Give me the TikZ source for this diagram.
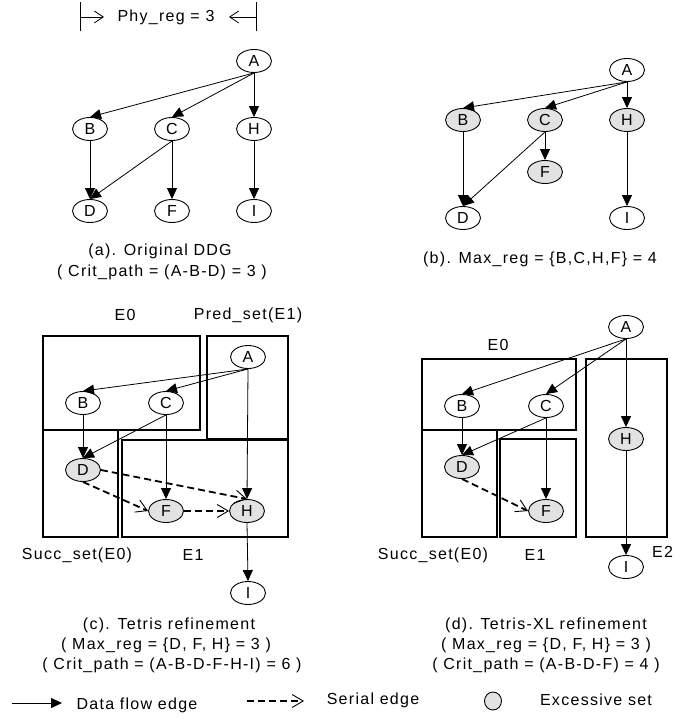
\documentclass[tikz,border=0pt]{standalone}
\usepackage{fontspec}
\setmainfont{Liberation Sans}[LetterSpace=8]
\usetikzlibrary{arrows.meta,shapes.geometric}
\definecolor{excol}{RGB}{226,226,226}
\begin{document}
\begin{tikzpicture}[x=1pt,y=-1pt,
  font=\fontsize{16pt}{18pt}\selectfont,
  vtx/.style={ellipse,draw,line width=0.9pt,minimum width=35pt,minimum height=23pt,inner sep=0pt,fill=white,font=\fontsize{16pt}{17pt}\selectfont},
  exc/.style={vtx,fill=excol},
  flow/.style={line width=0.8pt,-{Triangle[length=11pt,width=10pt]}},
  serial/.style={line width=1.8pt,dash pattern=on 7pt off 4pt,-{Straight Barb[length=11pt,width=13pt,line width=0.9pt]}},
  setbox/.style={line width=1.6pt},
  lbl/.style={inner sep=0pt,anchor=center}]
\fill[white] (0,0) rectangle (675,719);
\useasboundingbox (0,0) rectangle (675,719);

% ---------- title bracket ----------
\node[lbl] (phy) at (166,17) {Phy\_reg = 3};
\coordinate (lb) at (80,17);
\coordinate (lt) at (104,17);
\coordinate (rb) at (257,17);
\coordinate (rt) at (229,17);
\draw[line width=0.8pt,{Bar[width=29pt]}-{Straight Barb[length=9pt,width=12pt,line width=0.8pt]}] (lb) -- (lt);
\draw[line width=0.8pt,{Bar[width=29pt]}-{Straight Barb[length=9pt,width=12pt,line width=0.8pt]}] (rb) -- (rt);

% ---------- (a) ----------
\node[vtx] (aA) at (254,61) {A};
\node[vtx] (aB) at (90,129) {B};
\node[vtx] (aC) at (172,129) {C};
\node[vtx] (aH) at (254,129) {H};
\node[vtx] (aD) at (90,211) {D};
\node[vtx] (aF) at (172,211) {F};
\node[vtx] (aI) at (254,211) {I};
\draw[flow] (aA.south) -- (aB.north);
\draw[flow] (aA.south) -- (aC.north);
\draw[flow] (aA.south) -- (aH.north);
\draw[flow] (aB.south) -- (aD.north);
\draw[flow] (aC.south) -- (aD.north);
\draw[flow] (aC.south) -- (aF.north);
\draw[flow] (aH.south) -- (aI.north);
\node[lbl] (capa1) at (160,251) {(a). Original DDG};
\node[lbl] (capa2) at (162,272) {( Crit\_path = (A-B-D) = 3 )};

% ---------- (b) ----------
\node[vtx] (bA) at (627,70) {A};
\node[exc] (bB) at (463,120) {B};
\node[exc] (bC) at (545,120) {C};
\node[exc] (bH) at (627,120) {H};
\node[exc] (bF) at (545,172) {F};
\node[vtx] (bD) at (463,218) {D};
\node[vtx] (bI) at (627,218) {I};
\draw[flow] (bA.south) -- (bB.north);
\draw[flow] (bA.south) -- (bC.north);
\draw[flow] (bA.south) -- (bH.north);
\draw[flow] (bB.south) -- (bD.north);
\draw[flow] (bC.south) -- (bD.north);
\draw[flow] (bC.south) -- (bF.north);
\draw[flow] (bH.south) -- (bI.north);
\node[lbl] (capb) at (540,259) {(b). Max\_reg = \{B,C,H,F\} = 4};

% ---------- (c) ----------
\draw[setbox] (43,336) rectangle (200,430);
\draw[setbox] (207,336) rectangle (288,439);
\draw[setbox] (43,430) rectangle (118,537);
\draw[setbox] (122,440) rectangle (288,537);
\node[lbl] (cE0) at (125,315) {E0};
\node[lbl] (cPred) at (248,315) {Pred\_set(E1)};
\node[lbl] (cSucc) at (77,555) {Succ\_set(E0)};
\node[lbl] (cE1) at (193,555) {E1};
\node[vtx] (cA) at (248,357) {A};
\node[vtx] (cB) at (83,403) {B};
\node[vtx] (cC) at (166,403) {C};
\node[exc] (cD) at (83,470) {D};
\node[exc] (cF) at (166,511) {F};
\node[exc] (cH) at (247,511) {H};
\node[vtx] (cI) at (248,593) {I};
\draw[flow] (cA.south) -- (cB.north);
\draw[flow] (cA.south) -- (cC.north);
\draw[flow] (cA.south) -- (cH.north);
\draw[flow] (cB.south) -- (cD.north);
\draw[flow] (cC.south) -- (cD.north);
\draw[flow] (cC.south) -- (cF.north);
\draw[flow] (cH.south) -- (cI.north);
\draw[serial] (cD.east) -- (cH.north);
\draw[serial] (cD.south) -- (cF.west);
\draw[serial] (cF.east) -- (cH.west);
\node[lbl] (capc1) at (169,625) {(c). Tetris refinement};
\node[lbl] (capc2) at (166,645) {( Max\_reg = \{D, F, H\} = 3 )};
\node[lbl] (capc3) at (172,665) {( Crit\_path = (A-B-D-F-H-I) = 6 )};

% ---------- (d) ----------
\draw[setbox] (422,359) rectangle (576,430);
\draw[setbox] (586,359) rectangle (667,537);
\draw[setbox] (422,430) rectangle (497,537);
\draw[setbox] (500,439) rectangle (576,537);
\node[lbl] (dE0) at (498,345) {E0};
\node[lbl] (dSucc) at (433,555) {Succ\_set(E0)};
\node[lbl] (dE1) at (535,555) {E1};
\node[lbl,anchor=west] (dE2) at (652,552) {E2};
\node[vtx] (dA) at (626,327) {A};
\node[vtx] (dB) at (462,406) {B};
\node[vtx] (dC) at (546,406) {C};
\node[exc] (dD) at (462,467) {D};
\node[exc] (dF) at (546,511) {F};
\node[exc] (dH) at (626,439) {H};
\node[vtx] (dI) at (626,567) {I};
\draw[flow] (dA.south) -- (dB.north);
\draw[flow] (dA.south) -- (dC.north);
\draw[flow] (dA.south) -- (dH.north);
\draw[flow] (dB.south) -- (dD.north);
\draw[flow] (dC.south) -- (dD.north);
\draw[flow] (dC.south) -- (dF.north);
\draw[flow] (dH.south) -- (dI.north);
\draw[serial] (dD.south) -- (dF.west);
\node[lbl] (capd1) at (546,625) {(d). Tetris-XL refinement};
\node[lbl] (capd2) at (546,645) {( Max\_reg = \{D, F, H\} = 3 )};
\node[lbl] (capd3) at (546,665) {( Crit\_path = (A-B-D-F) = 4 )};

% ---------- legend ----------
\coordinate (lf1) at (12,703);
\coordinate (lf2) at (62,703);
\draw[flow] (lf1) -- (lf2);
\node[lbl] (lgf) at (137,705) {Data flow edge};
\coordinate (ls1) at (247,701);
\coordinate (ls2) at (304,701);
\draw[serial] (ls1) -- (ls2);
\node[lbl] (lgs) at (373,700) {Serial edge};
\node[ellipse,draw,line width=0.9pt,fill=excol,minimum width=17pt,minimum height=18pt,inner sep=0pt] (lge) at (493,701) {};
\node[lbl] (lgx) at (596,700) {Excessive set};
\end{tikzpicture}
\end{document}
